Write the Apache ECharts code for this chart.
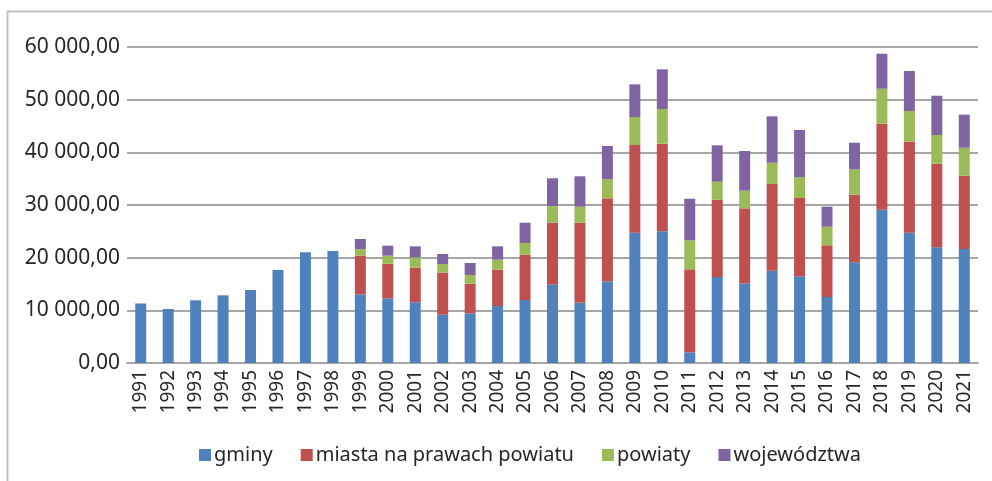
<!DOCTYPE html>
<html>
<head>
<meta charset="utf-8">
<script src="https://cdn.jsdelivr.net/npm/echarts@6/dist/echarts.min.js"></script>
<style>
  html, body { margin: 0; padding: 0; background: #fff; }
  #chart { width: 992px; height: 481px; }
</style>
</head>
<body>
<div id="chart"></div>
<script>
// lata
var years = ['1991','1992','1993','1994','1995','1996','1997','1998','1999','2000',
    '2001','2002','2003','2004','2005','2006','2007','2008','2009','2010',
    '2011','2012','2013','2014','2015','2016','2017','2018','2019','2020','2021'];

// wartości
var gminy = [11300, 10250, 11900, 12850, 13860, 17660, 21020, 21260, 13040, 12280,
    11520, 9180, 9430, 10820, 11960, 14870, 11450, 15510, 24740, 25000,
    2030, 16330, 15130, 17530, 16460, 12530, 19120, 29110, 24740, 21970, 21640];
var miasta = [0, 0, 0, 0, 0, 0, 0, 0, 7340, 6580,
    6580, 7970, 5630, 6900, 8610, 11770, 15190, 15760, 16650, 16640,
    15760, 14680, 14240, 16460, 14870, 9820, 12840, 16330, 17280, 15870, 13920];
var powiaty = [0, 0, 0, 0, 0, 0, 0, 0, 1260, 1520,
    1960, 1650, 1650, 1900, 2210, 3170, 3040, 3610, 5320, 6590,
    5510, 3410, 3350, 4040, 3980, 3530, 4820, 6640, 5830, 5450, 5320];
var wojewodztwa = [0, 0, 0, 0, 0, 0, 0, 0, 1900, 1900,
    2090, 1900, 2280, 2530, 3860, 5260, 5770, 6320, 6200, 7530,
    7890, 6910, 7530, 8810, 8930, 3800, 5050, 6640, 7590, 7460, 6270];

var font = 'Noto Sans';
var txt = '#262626';

function fmt(v) {
    var s = String(Math.round(v));
    s = s.replace(/\B(?=(\d{3})+(?!\d))/g, ' ');
    return s + ',00';
}

function serie(name, data, color) {
    return {
        name: name,
        type: 'bar',
        stack: 'suma',
        barWidth: '40%',
        data: data,
        itemStyle: { color: color },
        emphasis: { disabled: true }
    };
}

var chart = echarts.init(document.getElementById('chart'));
chart.setOption({
    animation: false,
    textStyle: { fontFamily: font },
    graphic: [{
        type: 'rect',
        shape: { x: 7.5, y: 11.5, width: 1100, height: 600 },
        style: { fill: 'none', stroke: '#BFBFBF', lineWidth: 2 },
        silent: true,
        z: -1
    }],
    grid: { left: 127, right: 14, top: 47, bottom: 118 },
    legend: {
        bottom: 11,
        left: 194,
        itemWidth: 12,
        itemHeight: 12,
        itemGap: 28,
        icon: 'rect',
        textStyle: { fontFamily: font, fontSize: 20, color: txt, padding: [0, 0, 0, -2] },
        data: ['gminy', 'miasta na prawach powiatu', 'powiaty', 'województwa']
    },
    xAxis: {
        type: 'category',
        data: years,
        axisLine: { lineStyle: { color: '#A6A6A6', width: 2 } },
        axisTick: { show: false },
        axisLabel: { rotate: 90, fontSize: 19, color: txt, margin: 7, fontFamily: font }
    },
    yAxis: {
        type: 'value',
        min: 0,
        max: 60000,
        interval: 10000,
        axisLine: { show: false },
        axisTick: { show: false },
        splitLine: { lineStyle: { color: '#A6A6A6', width: 2 } },
        axisLabel: { fontSize: 21, color: txt, margin: 7, fontFamily: font, formatter: fmt }
    },
    series: [
        serie('gminy', gminy, '#4F81BD'),
        serie('miasta na prawach powiatu', miasta, '#C0504D'),
        serie('powiaty', powiaty, '#9BBB59'),
        serie('województwa', wojewodztwa, '#8064A2')
    ]
});
</script>
</body>
</html>
